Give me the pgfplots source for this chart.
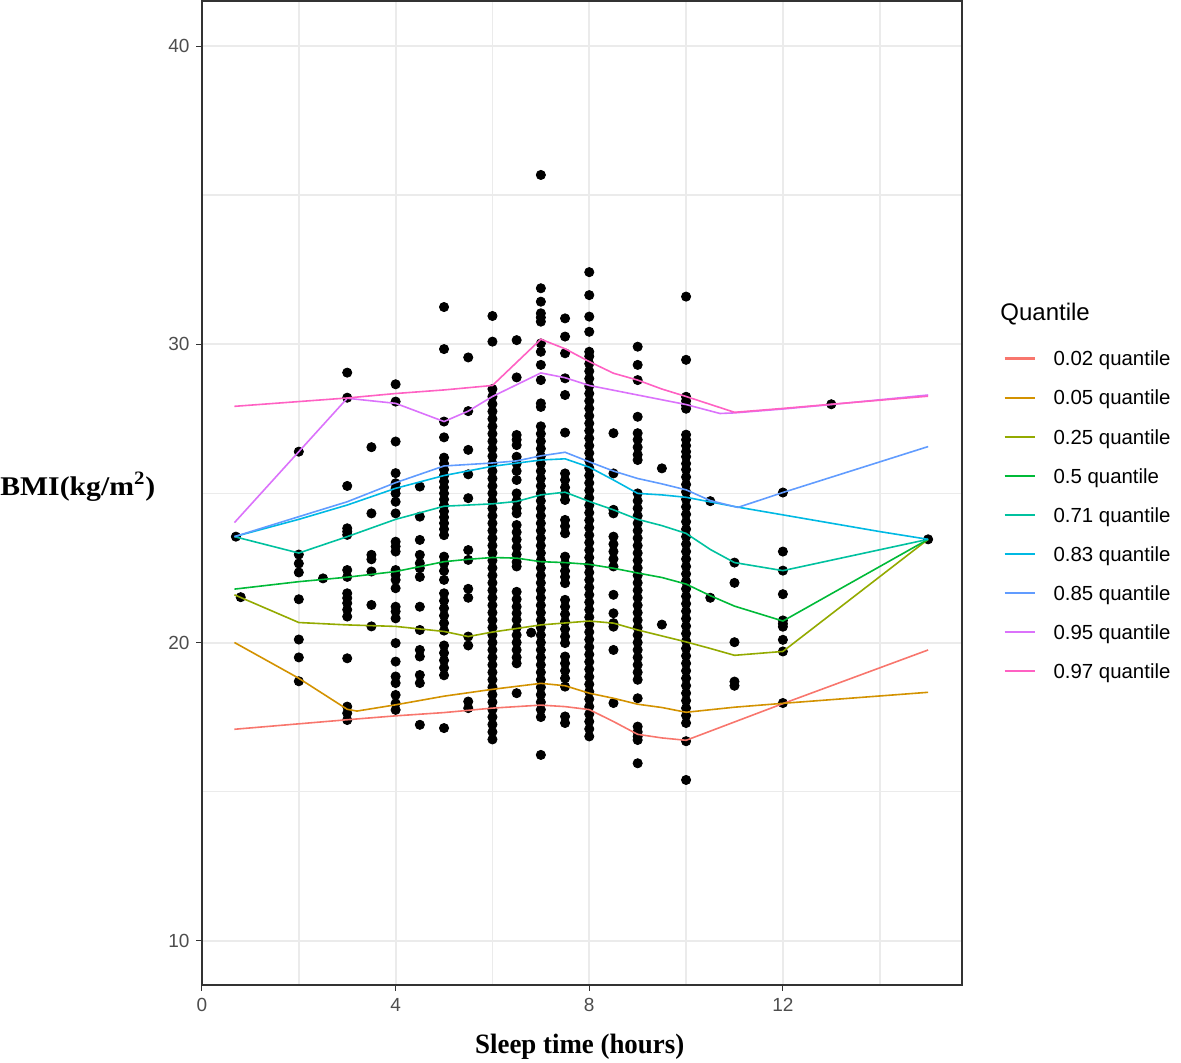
\documentclass[border=0pt]{standalone}
\usepackage{fontspec}
\setmainfont{Liberation Sans}
\newfontfamily\ylabfont[FakeStretch=1.1]{Liberation Serif}
\newfontfamily\xlabfont[FakeStretch=0.96]{Liberation Serif}
\usepackage{pgfplots}
\pgfplotsset{compat=1.18}
\definecolor{q02}{HTML}{F8766D}
\definecolor{q05}{HTML}{D39200}
\definecolor{q25}{HTML}{93AA00}
\definecolor{q5}{HTML}{00BA38}
\definecolor{q71}{HTML}{00C19F}
\definecolor{q83}{HTML}{00B9E3}
\definecolor{q85}{HTML}{619CFF}
\definecolor{q95}{HTML}{DB72FB}
\definecolor{q97}{HTML}{FF61C3}
\definecolor{ggrid}{HTML}{EBEBEB}
\definecolor{gborder}{HTML}{333333}
\definecolor{gtext}{HTML}{4D4D4D}
\begin{document}
\begin{tikzpicture}
\begin{axis}[
  name=ax,
  scale only axis,
  width=380pt, height=492pt,
  xmin=0, xmax=15.7, ymin=8.5, ymax=41.5,
  xtick={0,4,8,12}, ytick={10,20,30,40},
  minor xtick={2,6,10,14}, minor ytick={15,25,35},
  minor tick length=0pt,
  major tick length=2.75pt,
  tick align=outside,
  xtick pos=bottom, ytick pos=left,
  tick style={color=gborder, line width=0.5pt},
  grid=both,
  major grid style={color=ggrid, line width=1pt},
  minor grid style={color=ggrid, line width=0.9pt},
  axis line style={color=gborder, line width=1pt},
  ticklabel style={font=\fontsize{9.5}{11}\selectfont, text=gtext},
  /pgf/number format/assume math mode=true,
  xlabel={\xlabfont\bfseries Sleep time (hours)},
  xlabel style={at={(rel axis cs:0.497,0)}, anchor=center, yshift=-30.75pt, font=\fontsize{14}{16}\selectfont, inner sep=0pt},
  ylabel={\ylabfont\bfseries BMI(kg/m\textsuperscript{2})},
  ylabel style={rotate=-90, at={(rel axis cs:0,0.5066)}, anchor=west, xshift=-101pt, font=\fontsize{13.5}{15}\selectfont, inner sep=0pt},
  legend cell align=left,
  legend image code/.code={\draw[#1, line width=1.1pt] (0pt,0pt) -- (15pt,0pt);},
  legend style={at={(rel axis cs:1,1)}, anchor=north west, xshift=20.5pt, yshift=-173.5pt,
    draw=none, fill=none, inner sep=0pt, row sep=9.85pt, column sep=9pt,
    font=\fontsize{10.2}{12}\selectfont,
    nodes={inner sep=0pt, text height=8.5pt, text depth=1.2pt}},
  clip mode=individual,
]
\addplot[only marks, mark=*, mark size=2.3pt, black, forget plot] coordinates {
(0.7,23.55) (0.8,21.52)
(2,26.4) (2,22.95) (2,22.65) (2,22.35) (2,21.45) (2,20.1) (2,19.5) (2,18.7)
(2.5,22.15)
(3,29.05) (3,28.21) (3,25.25) (3,23.83) (3,23.72) (3,23.61) (3,22.43) (3,22.2) (3,21.65) (3,21.49) (3,21.32) (3,21.1) (3,20.87) (3,19.47) (3,17.85) (3,17.63) (3,17.4)
(3.5,26.55) (3.5,24.33) (3.5,22.94) (3.5,22.79) (3.5,22.38) (3.5,21.26) (3.5,20.54)
(4,28.66) (4,28.08) (4,26.74) (4,25.68) (4,25.34) (4,25.17) (4,25.0) (4,24.72) (4,24.33) (4,23.38) (4,23.22) (4,23.05) (4,22.43) (4,22.27) (4,22.1) (4,21.82) (4,21.2) (4,21.04) (4,20.81) (4,19.98) (4,19.36) (4,18.86) (4,18.64) (4,18.24) (4,17.96) (4,17.74)
(4.5,25.23) (4.5,24.22) (4.5,23.44) (4.5,22.94) (4.5,22.66) (4.5,22.49) (4.5,22.2) (4.5,21.2) (4.5,20.42) (4.5,19.75) (4.5,19.53) (4.5,18.91) (4.5,18.64) (4.5,17.24)
(5,31.25) (5,29.84) (5,27.41) (5,26.88) (5,26.2) (5,26) (5,25.8) (5,25.6) (5,25.4) (5,25.2) (5,25) (5,24.8) (5,24.6) (5,24.4) (5,24.2) (5,24) (5,23.8) (5,23.6) (5,22.88) (5,22.65) (5,22.4) (5,22.1) (5,21.65) (5,21.4) (5,21.15) (5,20.9) (5,20.65) (5,20.4) (5,19.9) (5,19.65) (5,19.4) (5,19.15) (5,18.9) (5,17.13)
(5.5,29.56) (5.5,27.76) (5.5,26.46) (5.5,25.64) (5.5,24.84) (5.5,23.1) (5.5,22.77) (5.5,21.8) (5.5,21.5) (5.5,20.2) (5.5,19.9) (5.5,18.02) (5.5,17.8)
(6,30.95) (6,30.09) (6,16.75) (6,17) (6,17.25) (6,17.5) (6,17.75) (6,18) (6,18.25) (6,18.5) (6,18.75) (6,19) (6,19.25) (6,19.5) (6,19.75) (6,20) (6,20.25) (6,20.5) (6,20.75) (6,21) (6,21.25) (6,21.5) (6,21.75) (6,22) (6,22.25) (6,22.5) (6,22.75) (6,23) (6,23.25) (6,23.5) (6,23.75) (6,24) (6,24.25) (6,24.5) (6,24.75) (6,25) (6,25.25) (6,25.5) (6,25.75) (6,26) (6,26.25) (6,26.5) (6,26.75) (6,27) (6,27.25) (6,27.5) (6,27.75) (6,28) (6,28.25) (6,28.5)
(6.5,30.14) (6.5,28.89) (6.5,26.96) (6.5,26.8) (6.5,26.62) (6.5,26.23) (6.5,26.0) (6.5,25.75) (6.5,25.45) (6.5,25.0) (6.5,24.75) (6.5,24.5) (6.5,24.33) (6.5,23.94) (6.5,23.7) (6.5,23.45) (6.5,23.2) (6.5,22.95) (6.5,22.7) (6.5,22.55) (6.5,21.7) (6.5,21.45) (6.5,21.2) (6.5,20.98) (6.5,20.76) (6.5,20.5) (6.5,20.25) (6.5,20.0) (6.5,19.75) (6.5,19.5) (6.5,19.3) (6.5,18.3)
(6.8,20.33)
(7,35.68) (7,31.88) (7,31.43) (7,31.04) (7,30.9) (7,30.76) (7,30.03) (7,29.75) (7,29.31) (7,28.8) (7,28.02) (7,27.9) (7,17.75) (7,18) (7,18.25) (7,18.5) (7,18.75) (7,19) (7,19.25) (7,19.5) (7,19.75) (7,20) (7,20.25) (7,20.5) (7,20.75) (7,21) (7,21.25) (7,21.5) (7,21.75) (7,22) (7,22.25) (7,22.5) (7,22.75) (7,23) (7,23.25) (7,23.5) (7,23.75) (7,24) (7,24.25) (7,24.5) (7,24.75) (7,25) (7,25.25) (7,25.5) (7,25.75) (7,26) (7,26.25) (7,26.5) (7,26.75) (7,27) (7,27.25) (7,17.5) (7,16.23)
(7.5,30.87) (7.5,30.26) (7.5,29.7) (7.5,28.86) (7.5,28.3) (7.5,27.04) (7.5,25.67) (7.5,25.45) (7.5,25.2) (7.5,25.0) (7.5,24.78) (7.5,24.11) (7.5,23.9) (7.5,23.66) (7.5,22.88) (7.5,22.65) (7.5,22.4) (7.5,22.2) (7.5,21.99) (7.5,21.43) (7.5,21.2) (7.5,20.95) (7.5,20.7) (7.5,20.45) (7.5,20.2) (7.5,19.98) (7.5,19.53) (7.5,19.3) (7.5,19.05) (7.5,18.8) (7.5,18.52) (7.5,17.52) (7.5,17.3)
(8,32.42) (8,31.65) (8,30.93) (8,30.42) (8,16.85) (8,17.1) (8,17.35) (8,17.6) (8,17.85) (8,18.1) (8,18.35) (8,18.6) (8,18.85) (8,19.1) (8,19.35) (8,19.6) (8,19.85) (8,20.1) (8,20.35) (8,20.6) (8,20.85) (8,21.1) (8,21.35) (8,21.6) (8,21.85) (8,22.1) (8,22.35) (8,22.6) (8,22.85) (8,23.1) (8,23.35) (8,23.6) (8,23.85) (8,24.1) (8,24.35) (8,24.6) (8,24.85) (8,25.1) (8,25.35) (8,25.6) (8,25.85) (8,26.1) (8,26.35) (8,26.6) (8,26.85) (8,27.1) (8,27.35) (8,27.6) (8,27.85) (8,28.1) (8,28.35) (8,28.6) (8,28.85) (8,29.1) (8,29.35) (8,29.6) (8,29.75)
(8.5,27.02) (8.5,25.67) (8.5,24.45) (8.5,24.33) (8.5,23.55) (8.5,23.3) (8.5,23.05) (8.5,22.8) (8.5,22.55) (8.5,21.6) (8.5,20.98) (8.5,20.65) (8.5,20.53) (8.5,19.75) (8.5,17.97)
(9,29.92) (9,29.31) (9,28.8) (9,27.57) (9,27.02) (9,26.8) (9,26.55) (9,26.3) (9,26.12) (9,18.75) (9,19) (9,19.25) (9,19.5) (9,19.75) (9,20) (9,20.25) (9,20.5) (9,20.75) (9,21) (9,21.25) (9,21.5) (9,21.75) (9,22) (9,22.25) (9,22.5) (9,22.75) (9,23) (9,23.25) (9,23.5) (9,23.75) (9,24) (9,24.25) (9,24.5) (9,24.75) (9,25) (9,18.13) (9,17.18) (9,17.0) (9,16.85) (9,16.73) (9,15.95)
(9.5,25.84) (9.5,20.6)
(10,31.6) (10,29.48) (10,28.24) (10,28.1) (10,27.95) (10,27.84) (10,26.97) (10,26.8) (10,26.6) (10,26.4) (10,26.23) (10,26.0) (10,25.8) (10,17.3) (10,17.55) (10,17.8) (10,18.05) (10,18.3) (10,18.55) (10,18.8) (10,19.05) (10,19.3) (10,19.55) (10,19.8) (10,20.05) (10,20.3) (10,20.55) (10,20.8) (10,21.05) (10,21.3) (10,21.55) (10,21.8) (10,22.05) (10,22.3) (10,22.55) (10,22.8) (10,23.05) (10,23.3) (10,23.55) (10,23.8) (10,24.05) (10,24.3) (10,24.55) (10,24.8) (10,25.05) (10,25.3) (10,25.55) (10,16.69) (10,15.39)
(10.5,24.74) (10.5,21.5)
(11,22.68) (11,22.0) (11,20.01) (11,18.69) (11,18.55)
(12,25.03) (12,23.05) (12,22.41) (12,21.62) (12,20.74) (12,20.63) (12,20.53) (12,20.09) (12,19.7) (12,17.97)
(13,27.99)
(15,23.46)
};
\addplot[q02, line width=0.8pt, mark=none] coordinates {(0.67,17.09) (3,17.41) (4,17.54) (5,17.65) (6,17.8) (7,17.9) (7.5,17.85) (8,17.75) (8.5,17.35) (9,16.92) (9.5,16.8) (10,16.72) (12,17.95) (15,19.75)};
\addlegendentry{0.02 quantile}
\addplot[q05, line width=0.8pt, mark=none] coordinates {(0.67,20.0) (2,18.8) (3,17.76) (3.2,17.7) (4,17.91) (5,18.2) (6,18.43) (7,18.63) (7.5,18.55) (8,18.3) (8.5,18.13) (9,17.93) (9.5,17.82) (10,17.66) (11,17.83) (12,17.96) (15,18.33)};
\addlegendentry{0.05 quantile}
\addplot[q25, line width=0.8pt, mark=none] coordinates {(0.67,21.6) (2,20.67) (3,20.59) (4,20.54) (5,20.37) (5.5,20.2) (6,20.35) (7,20.59) (8,20.72) (8.5,20.65) (9,20.42) (9.5,20.22) (10,20.02) (10.5,19.8) (11,19.57) (12,19.7) (15,23.46)};
\addlegendentry{0.25 quantile}
\addplot[q5, line width=0.8pt, mark=none] coordinates {(0.67,21.79) (2,22.04) (3,22.19) (4,22.38) (5,22.71) (5.5,22.79) (6,22.85) (6.5,22.83) (7,22.71) (7.5,22.68) (8,22.62) (8.5,22.49) (9,22.33) (9.5,22.18) (10,21.96) (10.5,21.57) (11,21.22) (12,20.72) (15,23.46)};
\addlegendentry{0.5 quantile}
\addplot[q71, line width=0.8pt, mark=none] coordinates {(0.67,23.55) (2,23.0) (3,23.55) (4,24.13) (5,24.57) (6,24.65) (6.5,24.73) (7,24.95) (7.5,25.04) (8,24.73) (8.5,24.45) (9,24.13) (9.5,23.92) (10,23.66) (10.5,23.12) (11,22.68) (12,22.41) (15,23.46)};
\addlegendentry{0.71 quantile}
\addplot[q83, line width=0.8pt, mark=none] coordinates {(0.67,23.55) (2,24.13) (3,24.61) (4,25.17) (5,25.6) (6,25.91) (7,26.12) (7.5,26.16) (8,25.88) (8.5,25.45) (9,25.0) (9.5,24.95) (10,24.87) (11,24.56) (12,24.28) (14,23.72) (15,23.46)};
\addlegendentry{0.83 quantile}
\addplot[q85, line width=0.8pt, mark=none] coordinates {(0.67,23.55) (2,24.22) (3,24.72) (4,25.36) (5,25.92) (6,26.02) (6.5,26.09) (7,26.26) (7.5,26.38) (8,26.06) (8.5,25.75) (9,25.5) (9.5,25.32) (10,25.12) (10.5,24.76) (11.07,24.53) (12,25.03) (15,26.57)};
\addlegendentry{0.85 quantile}
\addplot[q95, line width=0.8pt, mark=none] coordinates {(0.67,24.02) (2,26.4) (3,28.19) (4,28.02) (5,27.41) (5.5,27.76) (6,28.25) (7,29.04) (7.5,28.88) (8,28.62) (9,28.3) (10,27.98) (10.7,27.68) (11,27.7) (12,27.83) (13,27.98) (15,28.3)};
\addlegendentry{0.95 quantile}
\addplot[q97, line width=0.8pt, mark=none] coordinates {(0.67,27.92) (2,28.08) (3,28.2) (4,28.35) (5,28.47) (6,28.62) (7,30.17) (7.5,29.85) (8,29.42) (8.5,29.03) (9,28.8) (9.5,28.5) (10,28.25) (11,27.72) (12,27.85) (13,27.99) (15,28.26)};
\addlegendentry{0.97 quantile}
\end{axis}
\node[anchor=west, inner sep=0pt, font=\fontsize{12}{14}\selectfont] at ([xshift=19pt,yshift=-156.35pt]ax.north east) {Quantile};
\pgfresetboundingbox
\useasboundingbox ([xshift=-101pt,yshift=-38.3pt]ax.south west) rectangle ([xshift=109.5pt,yshift=0.7pt]ax.north east);
\end{tikzpicture}
\end{document}
